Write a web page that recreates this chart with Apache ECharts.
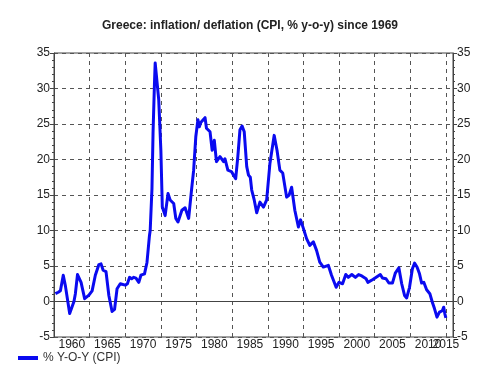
<!DOCTYPE html>
<html>
<head>
<meta charset="utf-8">
<script src="https://cdn.jsdelivr.net/npm/echarts@6/dist/echarts.min.js"></script>
<style>
  html, body { margin: 0; padding: 0; background: #fff; }
  #main { width: 500px; height: 376px; }
</style>
</head>
<body>
<div id="main"></div>
<script>
// decimal years and CPI % y-o-y
const years = [
  1960.2, 1960.6, 1960.9, 1961.3, 1961.6, 1962.2, 1962.8, 1963.0, 1963.3, 1963.8,
  1964.3, 1964.9, 1965.35, 1965.8, 1966.3, 1966.6, 1966.9, 1967.3, 1967.7, 1968.15,
  1968.5, 1968.85, 1969.3, 1969.5, 1970.0, 1970.3, 1970.6, 1970.9, 1971.2, 1971.5,
  1971.9, 1972.2, 1972.7, 1973.05, 1973.4, 1973.5, 1973.75, 1973.9, 1974.1, 1974.2,
  1974.45, 1974.7, 1975.0, 1975.2, 1975.6, 1976.0, 1976.3, 1976.8, 1977.1, 1977.4,
  1977.95, 1978.4, 1978.9, 1979.3, 1979.6, 1979.9, 1980.2, 1980.4, 1980.6, 1981.2,
  1981.4, 1981.9, 1982.2, 1982.5, 1982.8, 1983.3, 1983.8, 1984.0, 1984.4, 1984.9,
  1985.2, 1985.5, 1985.8, 1986.1, 1986.4, 1986.7, 1987.05, 1987.3, 1987.55, 1987.75,
  1988.1, 1988.45, 1988.9, 1989.4, 1989.85, 1990.3, 1990.9, 1991.3, 1991.7, 1992.1,
  1992.65, 1993.0, 1993.35, 1993.8, 1994.3, 1994.6, 1995.0, 1995.45, 1995.9, 1996.4,
  1996.85, 1997.3, 1997.8, 1998.5, 1998.95, 1999.6, 2000.0, 2000.5, 2000.95, 2001.3,
  2001.8, 2002.3, 2002.75, 2003.2, 2003.8, 2004.05, 2004.75, 2005.8, 2006.1, 2006.6,
  2007.0, 2007.5, 2007.9, 2008.4, 2008.8, 2009.2, 2009.5, 2009.9, 2010.3, 2010.6,
  2010.95, 2011.3, 2011.6, 2011.9, 2012.3, 2012.75, 2013.1, 2013.4, 2013.75, 2014.1,
  2014.5, 2014.7, 2014.85, 2015.0
];
const cpi = [
  1.1, 1.3, 1.5, 3.7, 2.2, -1.7, 0.0, 1.1, 3.8, 2.7,
  0.4, 0.9, 1.5, 3.7, 5.2, 5.3, 4.4, 4.2, 0.85, -1.4,
  -1.1, 1.8, 2.5, 2.7, 2.3, 2.5, 3.4, 3.2, 3.4, 3.3,
  2.7, 3.7, 3.9, 5.5, 9.3, 10.0, 15.9, 23.7, 30.7, 33.6,
  31.0, 28.4, 21.3, 13.3, 12.1, 15.2, 14.3, 13.8, 11.7, 11.2,
  12.85, 13.2, 11.7, 15.7, 18.5, 23.2, 25.6, 24.6, 25.2, 25.9,
  24.4, 23.9, 21.3, 22.7, 19.7, 20.4, 19.7, 20.1, 18.5, 18.3,
  17.8, 17.3, 20.4, 24.2, 24.7, 23.9, 19.0, 17.8, 17.5, 15.7,
  14.3, 12.5, 14.0, 13.3, 14.3, 19.4, 23.4, 21.3, 18.5, 18.1,
  14.7, 15.0, 16.1, 12.85, 10.5, 11.5, 10.3, 8.85, 7.9, 8.4,
  7.2, 5.55, 4.85, 5.1, 3.7, 2.0, 2.7, 2.5, 3.8, 3.4,
  3.8, 3.4, 3.8, 3.6, 3.2, 2.7, 3.1, 3.8, 3.3, 3.2,
  2.6, 2.6, 4.0, 4.75, 2.5, 0.85, 0.5, 2.0, 4.6, 5.4,
  4.85, 3.9, 2.6, 2.7, 1.65, 1.1, -0.1, -1.0, -2.2, -1.5,
  -1.3, -0.8, -1.7, -2.3
];
// bottom labels sit between the grid lines; the last one sits on the end line
const xLabels = ['1960', '1965', '1970', '1975', '1980', '1985', '1990', '1995', '2000', '2005', '2010'];
const xLastLabel = '2015';
const seriesName = '% Y-O-Y (CPI)';

const dom = document.getElementById('main');
const myChart = echarts.init(dom);

const font = 'Liberation Sans, Arial, sans-serif';
const axisColor = '#444';
const gridDash = { color: '#555', type: [4, 4], width: 1 };

function yAxisDef(pos, grid) {
  return {
    type: 'value',
    position: pos,
    min: -5,
    max: 35,
    interval: 5,
    axisLine: { show: true, lineStyle: { color: axisColor } },
    axisTick: { show: true, length: 4, lineStyle: { color: axisColor } },
    minorTick: { show: true, splitNumber: 5, length: 2, lineStyle: { color: axisColor } },
    splitLine: { show: grid, lineStyle: gridDash },
    axisLabel: {
      margin: 4,
      color: '#222',
      fontFamily: font,
      fontSize: 12,
      padding: [0, 0, 8, 0]
    }
  };
}

const option = {
  animation: false,
  backgroundColor: '#fff',
  title: {
    text: 'Greece: inflation/ deflation (CPI, % y-o-y) since 1969',
    left: 'center',
    top: 20,
    padding: 0,
    textStyle: { fontFamily: font, fontSize: 12, fontWeight: 'bold', color: '#222' }
  },
  legend: {
    left: 13,
    top: 347,
    icon: 'rect',
    itemWidth: 20,
    itemHeight: 4,
    textStyle: { fontFamily: font, fontSize: 12, color: '#333' },
    data: [seriesName]
  },
  grid: {
    left: 54,
    right: 47,
    top: 53,
    bottom: 39,
    show: true,
    borderColor: axisColor,
    borderWidth: 1
  },
  xAxis: [
    {
      type: 'value',
      min: 1960,
      max: 2016,
      interval: 5,
      axisLine: { show: true, onZero: true, lineStyle: { color: axisColor } },
      axisTick: { show: false },
      axisLabel: { show: false },
      splitLine: { show: true, lineStyle: gridDash }
    },
    {
      type: 'value',
      position: 'bottom',
      min: 1957.5,
      max: 2013.5,
      interval: 2.5,
      axisLine: { show: false, onZero: false },
      axisTick: { show: false },
      splitLine: { show: false },
      axisLabel: {
        margin: 2,
        color: '#222',
        fontFamily: font,
        fontSize: 12,
        showMinLabel: true,
        showMaxLabel: true,
        formatter: function (v) {
          const k = (v - 1960) / 5;
          if (Number.isInteger(k) && k >= 0 && k < xLabels.length) return xLabels[k];
          if (v === 2012.5) return xLastLabel;
          return '';
        }
      }
    }
  ],
  yAxis: [yAxisDef('left', true), yAxisDef('right', false)],
  series: [
    {
      name: seriesName,
      type: 'line',
      xAxisIndex: 0,
      yAxisIndex: 0,
      showSymbol: false,
      symbol: 'none',
      color: '#0a0af0',
      lineStyle: { width: 3, color: '#0a0af0', join: 'round' },
      data: years.map(function (y, i) { return [y, cpi[i]]; })
    }
  ]
};

myChart.setOption(option, true);
</script>
</body>
</html>
